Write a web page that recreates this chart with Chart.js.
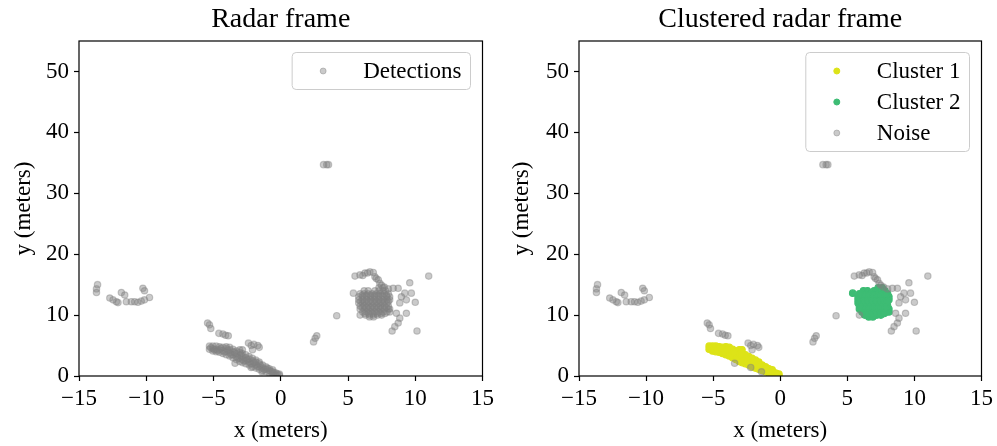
<!DOCTYPE html>
<html>
<head>
<meta charset="utf-8">
<script src="https://cdn.jsdelivr.net/npm/chart.js@4.4.1/dist/chart.umd.min.js"></script>
<style>
  html, body { margin: 0; padding: 0; background: #fff; }
  #wrap { position: relative; width: 997px; height: 446px; }
  canvas { position: absolute; top: 0; }
  #left { left: 0; }
  #right { left: 498px; }
</style>
</head>
<body>
<div id="wrap">
  <canvas id="left" width="498" height="446"></canvas>
  <canvas id="right" width="499" height="446"></canvas>
</div>
<script>
// axis ticks
const xTicks = [-15, -10, -5, 0, 5, 10, 15];
const yTicks = [0, 10, 20, 30, 40, 50];

// cluster 1: the diagonal band near the sensor
const cluster1 = [
  [-5.3, 4.4], [-5.3, 4.9],
  [-5.05, 4.1], [-5.05, 4.5], [-5.05, 4.9],
  [-4.8, 4.0], [-4.8, 4.4], [-4.8, 4.9],
  [-4.55, 3.9], [-4.55, 4.3], [-4.55, 4.8],
  [-4.3, 3.7], [-4.3, 4.2], [-4.3, 4.7],
  [-4.05, 3.5], [-4.05, 4.0], [-4.05, 4.5], [-4.05, 4.8],
  [-3.8, 3.3], [-3.8, 3.8], [-3.8, 4.3], [-3.8, 4.7],
  [-3.55, 3.0], [-3.55, 3.5], [-3.55, 4.0], [-3.55, 4.4],
  [-3.3, 2.7], [-3.3, 3.2], [-3.3, 3.7], [-3.3, 4.1],
  [-3.05, 2.4], [-3.05, 2.9], [-3.05, 3.4], [-3.05, 3.9], [-3.05, 4.3],
  [-2.85, 2.2], [-2.85, 2.7], [-2.85, 3.2], [-2.85, 3.7], [-2.85, 4.3],
  [-2.6, 2.0], [-2.6, 2.5], [-2.6, 3.0], [-2.6, 3.5],
  [-2.35, 1.8], [-2.35, 2.3], [-2.35, 2.8], [-2.35, 3.2],
  [-2.1, 1.5], [-2.1, 2.0], [-2.1, 2.5], [-2.1, 2.9],
  [-1.85, 1.3], [-1.85, 1.8], [-1.85, 2.3], [-1.85, 2.6],
  [-1.6, 1.1], [-1.6, 1.5], [-1.6, 2.0], [-1.6, 2.3],
  [-1.35, 0.9], [-1.35, 1.3], [-1.35, 1.8],
  [-1.1, 0.7], [-1.1, 1.1], [-1.1, 1.5],
  [-0.85, 0.5], [-0.85, 0.9], [-0.85, 1.2],
  [-0.6, 0.4], [-0.6, 0.7], [-0.6, 1.0],
  [-0.35, 0.2], [-0.35, 0.5],
  [-0.1, 0.1], [-0.1, 0.3],
  [-5.2, 4.65], [-4.95, 4.3], [-4.7, 4.15], [-4.45, 4.55], [-4.2, 3.95], [-3.95, 4.25],
  [-3.7, 3.55], [-3.45, 3.85], [-3.2, 2.95], [-2.95, 3.55], [-2.75, 2.45], [-2.5, 2.75],
  [-2.25, 2.05], [-2.0, 2.25], [-1.75, 1.55], [-1.5, 1.75], [-1.25, 1.1], [-1.0, 1.3],
  [-0.75, 0.75], [-0.5, 0.55], [-0.25, 0.35]
];

// cluster 2: the blob on the right
const cluster2 = [
  [5.4, 13.6],
  [7.3, 14.5], [7.6, 14.5],
  [6.2, 14.0], [6.5, 14.0], [7.0, 14.0], [7.3, 14.0], [7.6, 14.0], [7.8, 14.0],
  [5.9, 13.5], [6.2, 13.5], [6.5, 13.5], [6.8, 13.5], [7.1, 13.5], [7.4, 13.5], [7.7, 13.5], [8.0, 13.5],
  [5.8, 13.0], [6.1, 13.0], [6.4, 13.0], [6.7, 13.0], [7.0, 13.0], [7.3, 13.0], [7.6, 13.0], [7.9, 13.0], [8.1, 13.0],
  [5.8, 12.5], [6.1, 12.5], [6.4, 12.5], [6.7, 12.5], [7.0, 12.5], [7.3, 12.5], [7.6, 12.5], [7.9, 12.5], [8.1, 12.5],
  [5.8, 12.0], [6.1, 12.0], [6.4, 12.0], [6.7, 12.0], [7.0, 12.0], [7.3, 12.0], [7.6, 12.0], [7.9, 12.0],
  [5.9, 11.5], [6.2, 11.5], [6.5, 11.5], [6.8, 11.5], [7.1, 11.5], [7.4, 11.5], [7.7, 11.5], [8.0, 11.5],
  [5.9, 11.0], [6.2, 11.0], [6.5, 11.0], [6.8, 11.0], [7.1, 11.0], [7.4, 11.0], [7.7, 11.0], [8.0, 11.0], [8.1, 11.0],
  [6.1, 10.5], [6.4, 10.5], [6.7, 10.5], [7.0, 10.5], [7.3, 10.5], [7.6, 10.5], [7.9, 10.5], [8.1, 10.5],
  [6.3, 10.0], [6.6, 10.0], [6.9, 10.0], [7.2, 10.0], [7.5, 10.0],
  [6.6, 9.7], [6.9, 9.7],
  [6.05, 13.25], [6.35, 13.25], [6.65, 13.25], [6.95, 13.25], [7.25, 13.25], [7.55, 13.25], [7.85, 13.25],
  [5.95, 12.25], [6.25, 12.25], [6.55, 12.25], [6.85, 12.25], [7.15, 12.25], [7.45, 12.25], [7.75, 12.25], [8.0, 12.25],
  [6.05, 11.25], [6.35, 11.25], [6.65, 11.25], [6.95, 11.25], [7.25, 11.25], [7.55, 11.25], [7.85, 11.25],
  [6.25, 10.25], [6.55, 10.25], [6.85, 10.25], [7.15, 10.25], [7.45, 10.25], [7.75, 10.25]
];

// noise: everything not assigned to a cluster
const noise = [
  [-13.62, 15.0], [-13.7, 14.3], [-13.7, 13.7], [-12.71, 12.8], [-12.47, 12.5], [-12.22, 12.2],
  [-12.1, 12.05], [-11.85, 13.7], [-11.6, 13.3], [-11.48, 12.2], [-11.11, 12.2], [-10.86, 12.2],
  [-10.62, 12.1], [-10.37, 12.3], [-10.13, 12.5], [-9.76, 12.9], [-10.25, 14.4], [-10.13, 14.0],
  [3.18, 34.7], [3.42, 34.7], [3.55, 34.7],
  [2.44, 5.6], [2.56, 6.2], [2.68, 6.6], [4.16, 9.9],
  [-5.44, 8.7], [-5.3, 8.4], [-5.2, 7.8], [-4.6, 7.0], [-4.3, 6.9], [-4.1, 6.7], [-3.9, 6.6],
  [-2.4, 5.4], [-2.2, 5.0], [-2.0, 5.2], [-1.7, 5.0], [-1.6, 4.7], [-2.1, 4.3],
  [-3.4, 2.1], [-2.2, 1.4], [-1.4, 0.7],
  [5.52, 16.4], [5.89, 16.6], [6.1, 16.5], [6.26, 16.9], [6.45, 16.9], [6.63, 17.1], [6.88, 17.0],
  [7.0, 16.3], [7.1, 16.0], [7.25, 15.8], [7.37, 15.2], [7.5, 14.9], [7.7, 14.6], [8.0, 14.3],
  [8.36, 14.4], [8.73, 14.4], [9.59, 15.3], [9.22, 13.6], [9.71, 13.6], [8.97, 13.0], [9.34, 12.5],
  [10.0, 12.1], [8.85, 12.0], [11.0, 16.4], [8.6, 10.3], [9.34, 10.3], [8.85, 9.5], [8.73, 8.7],
  [8.48, 8.1], [8.28, 7.4], [10.13, 7.4], [5.9, 10.0]
];

const serif = '"Liberation Serif", "Times New Roman", serif';
const gray = "rgba(128, 128, 128, 0.42)";
const yellow = "#dde318";
const green = "#3dbc74";

Chart.defaults.font.family = serif;
Chart.defaults.color = "#000";

const toXY = (arr) => arr.map(([x, y]) => ({ x, y }));
const fmt = (v) => (v < 0 ? "\u2212" + Math.abs(v) : String(v));

// frame, title and in-axes legend (matplotlib look)
const axesDecor = {
  id: "axesDecor",
  afterDraw(chart, args, opts) {
    const { ctx, chartArea: a } = chart;
    ctx.save();
    ctx.strokeStyle = "#000";
    ctx.lineWidth = 1.2;
    ctx.strokeRect(a.left, a.top, a.right - a.left, a.bottom - a.top);

    ctx.fillStyle = "#000";
    ctx.font = "28px " + serif;
    ctx.textAlign = "center";
    ctx.textBaseline = "middle";
    ctx.fillText(opts.title, (a.left + a.right) / 2, 20);

    // legend box
    ctx.font = "23px " + serif;
    const sets = chart.data.datasets;
    const textW = Math.max(...sets.map((d) => ctx.measureText(d.label).width));
    const w = 71 + textW + 9;
    const h = sets.length * 31 + 6;
    const bx = a.right - 12 - w;
    const by = a.top + 11.5;
    ctx.beginPath();
    ctx.roundRect(bx, by, w, h, 4);
    ctx.fillStyle = "rgba(255,255,255,0.8)";
    ctx.fill();
    ctx.strokeStyle = "#cccccc";
    ctx.lineWidth = 1;
    ctx.stroke();

    ctx.textAlign = "left";
    sets.forEach((d, i) => {
      const cy = by + 18.5 + 31 * i;
      ctx.beginPath();
      ctx.arc(bx + 31, cy, 3, 0, Math.PI * 2);
      ctx.fillStyle = d.backgroundColor;
      ctx.fill();
      ctx.strokeStyle = d.borderColor;
      ctx.lineWidth = 1;
      ctx.stroke();
      ctx.fillStyle = "#000";
      ctx.fillText(d.label, bx + 71, cy + 1);
    });
    ctx.restore();
  }
};

const makeScales = (yWidth) => ({
  x: {
    type: "linear",
    min: -15,
    max: 15,
    afterBuildTicks: (s) => { s.ticks = xTicks.map((v) => ({ value: v })); },
    afterFit: (s) => { s.height = 70; },
    border: { display: false },
    grid: { drawOnChartArea: false, drawTicks: true, tickLength: 5, tickColor: "#000", tickWidth: 1.2 },
    ticks: { font: { size: 23 }, padding: 4, maxRotation: 0, autoSkip: false, callback: fmt },
    title: { display: true, text: "x (meters)", font: { size: 23 }, padding: { top: 0, bottom: 1 } }
  },
  y: {
    type: "linear",
    min: 0,
    max: 55,
    afterBuildTicks: (s) => { s.ticks = yTicks.map((v) => ({ value: v })); },
    afterFit: (s) => { s.width = yWidth; },
    border: { display: false },
    grid: { drawOnChartArea: false, drawTicks: true, tickLength: 5, tickColor: "#000", tickWidth: 1.2 },
    ticks: { font: { size: 23 }, padding: 5, autoSkip: false, callback: fmt },
    title: { display: true, text: "y (meters)", font: { size: 23 }, padding: { top: 10, bottom: 0 } }
  }
});

const pointStyle = (color) => ({
  backgroundColor: color,
  borderColor: color,
  borderWidth: 1.2,
  pointRadius: 3.2,
  pointHoverRadius: 3.2
});

const baseOptions = (yWidth, rightPad, title) => ({
  responsive: false,
  animation: false,
  layout: { padding: { top: 41, right: rightPad, left: 0, bottom: 0 } },
  plugins: { legend: { display: false }, tooltip: { enabled: false }, axesDecor: { title } },
  scales: makeScales(yWidth)
});

// left: every detection in gray
new Chart(document.getElementById("left"), {
  type: "scatter",
  data: {
    datasets: [
      { label: "Detections", data: toXY([...cluster1, ...cluster2, ...noise]), ...pointStyle(gray) }
    ]
  },
  options: baseOptions(79, 13, "Radar frame"),
  plugins: [axesDecor]
});

// right: same detections split by cluster
new Chart(document.getElementById("right"), {
  type: "scatter",
  data: {
    datasets: [
      { label: "Cluster 1", data: toXY(cluster1), ...pointStyle(yellow), order: 2 },
      { label: "Cluster 2", data: toXY(cluster2), ...pointStyle(green), order: 1 },
      { label: "Noise", data: toXY(noise), ...pointStyle(gray), order: 0 }
    ]
  },
  options: baseOptions(81, 12, "Clustered radar frame"),
  plugins: [axesDecor]
});
</script>
</body>
</html>
